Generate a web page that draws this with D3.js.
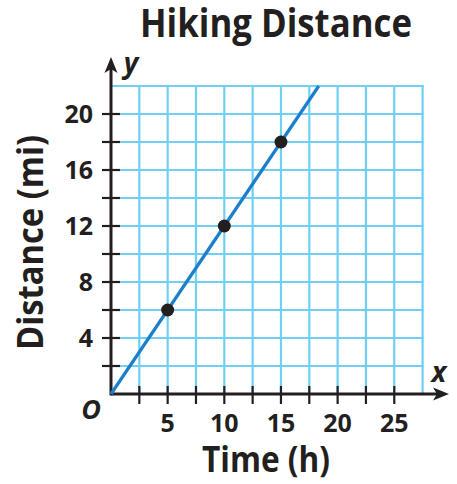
<!DOCTYPE html>
<html>
<head>
<meta charset="utf-8">
<script src="https://cdn.jsdelivr.net/npm/d3@7"></script>
<style>
  body { margin: 0; background: #fff; }
  svg { display: block; }
  text { font-family: "Open Sans", "Noto Sans", sans-serif; fill: #231f20; }
</style>
</head>
<body>
<svg id="chart" width="457" height="484"></svg>
<script>
// Data
const title = "Hiking Distance";
const xLabel = "Time (h)";
const yLabel = "Distance (mi)";
const timeValues = [5, 10, 15];
const distanceValues = [6, 12, 18];
const lineStart = [0, 0];
const lineEnd = [18.333, 22];
const xTickLabels = [5, 10, 15, 20, 25];
const yTickLabels = [4, 8, 12, 16, 20];
const xDomain = [0, 27.5];
const yDomain = [0, 22];
const xGridStep = 2.5;
const yGridStep = 2;

const svg = d3.select("#chart");
const x = d3.scaleLinear().domain(xDomain).range([111, 422.6]);
const y = d3.scaleLinear().domain(yDomain).range([394, 86]);

const ink = "#231f20";
const gridColor = "#6fd0f4";

// grid
const xGrid = d3.range(xGridStep, xDomain[1] + 0.001, xGridStep);
const yGrid = d3.range(yGridStep, yDomain[1] + 0.001, yGridStep);
svg.append("g").selectAll("line").data(xGrid).join("line")
  .attr("x1", d => x(d)).attr("x2", d => x(d))
  .attr("y1", y(0)).attr("y2", y(yDomain[1]) - 1)
  .attr("stroke", gridColor).attr("stroke-width", 2.2);
svg.append("g").selectAll("line").data(yGrid).join("line")
  .attr("x1", x(0)).attr("x2", x(xDomain[1]) + 1)
  .attr("y1", d => y(d)).attr("y2", d => y(d))
  .attr("stroke", gridColor).attr("stroke-width", 2.2);

// axes
const axisG = svg.append("g");
axisG.append("line").attr("x1", x(0)).attr("x2", 440).attr("y1", y(0)).attr("y2", y(0))
  .attr("stroke", ink).attr("stroke-width", 3);
axisG.append("line").attr("x1", x(0)).attr("x2", x(0)).attr("y1", y(0) + 1.5).attr("y2", 66)
  .attr("stroke", ink).attr("stroke-width", 3);
axisG.append("path")
  .attr("d", `M449,${y(0)} L433,${y(0) - 6.5} L437,${y(0)} L433,${y(0) + 6.5} Z`)
  .attr("fill", ink);
axisG.append("path")
  .attr("d", `M${x(0)},57 L${x(0) - 6.5},73 L${x(0)},69 L${x(0) + 6.5},73 Z`)
  .attr("fill", ink);

// ticks
const xTicks = d3.range(xGridStep, 25.001, xGridStep);
axisG.append("g").selectAll("line").data(xTicks).join("line")
  .attr("x1", d => x(d)).attr("x2", d => x(d))
  .attr("y1", y(0) - 8).attr("y2", y(0) + 10)
  .attr("stroke", ink).attr("stroke-width", 2.2);
const yTicks = d3.range(yGridStep, 20.001, yGridStep);
axisG.append("g").selectAll("line").data(yTicks).join("line")
  .attr("x1", x(0) - 9).attr("x2", x(0) + 9)
  .attr("y1", d => y(d)).attr("y2", d => y(d))
  .attr("stroke", ink).attr("stroke-width", 2.2);

// tick labels
svg.append("g").selectAll("text").data(xTickLabels).join("text")
  .attr("x", d => x(d)).attr("y", 432)
  .attr("text-anchor", "middle")
  .attr("font-size", 25).attr("font-weight", 700)
  .text(d => d);
svg.append("g").selectAll("text").data(yTickLabels).join("text")
  .attr("x", 93).attr("y", d => y(d) + 9)
  .attr("text-anchor", "end")
  .attr("font-size", 25).attr("font-weight", 700)
  .text(d => d);

// line
svg.append("line")
  .attr("x1", x(lineStart[0])).attr("y1", y(lineStart[1]))
  .attr("x2", x(lineEnd[0])).attr("y2", y(lineEnd[1]))
  .attr("stroke", "#1b7fcc").attr("stroke-width", 3.2);

// points
svg.append("g").selectAll("circle").data(timeValues).join("circle")
  .attr("cx", d => x(d)).attr("cy", (d, i) => y(distanceValues[i]))
  .attr("r", 6.5).attr("fill", ink);

// axis letters
svg.append("text").attr("x", 91).attr("y", 419).attr("text-anchor", "middle")
  .attr("font-size", 27).attr("font-weight", 700).attr("font-style", "italic").text("O");
svg.append("text").attr("x", 439).attr("y", 382).attr("text-anchor", "middle")
  .attr("font-size", 28).attr("font-weight", 700).attr("font-style", "italic").text("x");
svg.append("text").attr("x", 131).attr("y", 73).attr("text-anchor", "middle")
  .attr("font-size", 28).attr("font-weight", 700).attr("font-style", "italic").text("y");

// titles
svg.append("text").attr("x", 140).attr("y", 37)
  .attr("font-size", 40).attr("font-weight", 700)
  .attr("textLength", 272).attr("lengthAdjust", "spacingAndGlyphs").text(title);
svg.append("text").attr("x", 202).attr("y", 472)
  .attr("font-size", 36).attr("font-weight", 700)
  .attr("textLength", 128).attr("lengthAdjust", "spacingAndGlyphs").text(xLabel);
svg.append("text")
  .attr("transform", "translate(43,350) rotate(-90)")
  .attr("font-size", 35).attr("font-weight", 700)
  .attr("textLength", 215).attr("lengthAdjust", "spacingAndGlyphs").text(yLabel);
</script>
</body>
</html>
